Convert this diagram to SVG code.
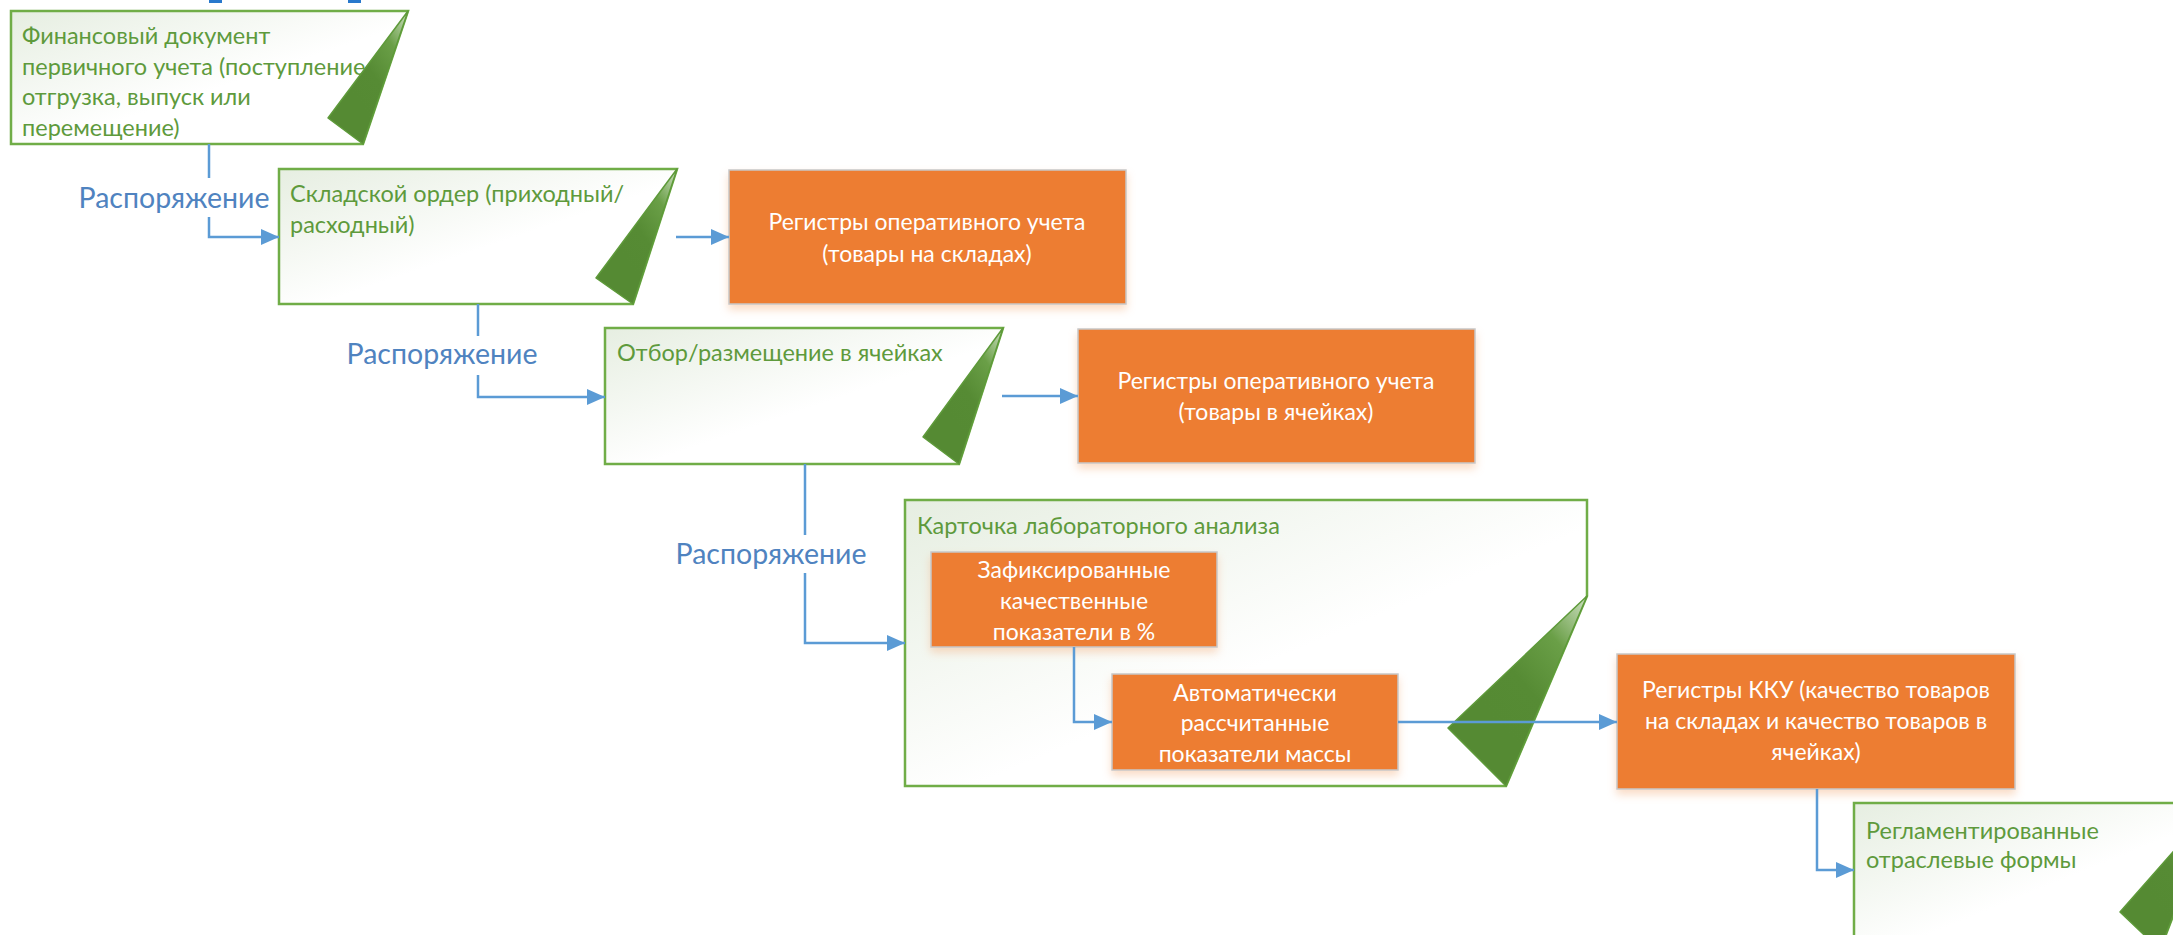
<svg xmlns="http://www.w3.org/2000/svg" width="2173" height="935" viewBox="0 0 2173 935">
<style>
.doc{stroke:#70AD47;stroke-width:2.5;fill:url(#docFill);stroke-linejoin:miter}
.fold{fill:url(#foldFill);stroke:#5E9A3A;stroke-width:1.5;stroke-linejoin:round}
.gt{font-family:Lato,"Open Sans",sans-serif;font-size:23.5px;fill:#5E9A3C}
.org{fill:#ED7D31;stroke:#C8C8C8;stroke-width:1.5;filter:url(#sh)}
.wt{font-family:Lato,"Open Sans",sans-serif;font-size:23px;fill:#FFFFFF;text-anchor:middle}
.lbl{font-family:Lato,"Open Sans",sans-serif;font-size:28.5px;fill:#4F83C0;text-anchor:middle}
.con{fill:none;stroke:#5B9BD5;stroke-width:2.5}
.arr{marker-end:url(#ah)}
</style>
<defs>
<linearGradient id="docFill" x1="0" y1="0" x2="1" y2="1">
<stop offset="0" stop-color="#E6EEE1"/>
<stop offset="0.55" stop-color="#FFFFFF"/>
<stop offset="1" stop-color="#FFFFFF"/>
</linearGradient>
<linearGradient id="foldFill" x1="1" y1="0" x2="0.4" y2="0.7">
<stop offset="0" stop-color="#CFE1C4"/>
<stop offset="0.35" stop-color="#6A9F47"/>
<stop offset="0.7" stop-color="#568B34"/>
<stop offset="1" stop-color="#558A33"/>
</linearGradient>
<filter id="sh" x="-10%" y="-10%" width="120%" height="130%">
<feDropShadow dx="0" dy="5" stdDeviation="4" flood-color="#F4B183" flood-opacity="0.45"/>
</filter>
<marker id="ah" markerUnits="userSpaceOnUse" markerWidth="18" markerHeight="16" viewBox="0 0 18 16" refX="18" refY="8" orient="auto">
<path d="M0,0 L18,8 L0,16 z" fill="#5B9BD5"/>
</marker>
</defs>

<rect x="209" y="0" width="13" height="3" fill="#2878CC"/>
<rect x="348" y="0" width="13" height="3" fill="#2878CC"/>

<g id="doc1">
<path class="doc" d="M11,11 H408 L363,144 H11 Z"/>
<text class="gt" x="22" y="44">Финансовый документ</text>
<text class="gt" x="22" y="75">первичного учета (поступление</text>
<text class="gt" x="22" y="105">отгрузка, выпуск или</text>
<text class="gt" x="22" y="136">перемещение)</text>
<path class="fold" d="M408,11 L328,118 L363,144 Z"/>
</g>

<g id="doc2">
<path class="doc" d="M279,169 H677 L633,304 H279 Z"/>
<text class="gt" x="290" y="202">Складской ордер (приходный/</text>
<text class="gt" x="290" y="233">расходный)</text>
<path class="fold" d="M677,169 L596,278 L633,304 Z"/>
</g>

<g id="reg1">
<rect class="org" x="729" y="170" width="397" height="134"/>
<text class="wt" x="927" y="230">Регистры оперативного учета</text>
<text class="wt" x="927" y="262">(товары на складах)</text>
</g>

<g id="doc3">
<path class="doc" d="M605,328 H1003 L959,464 H605 Z"/>
<text class="gt" x="617" y="361">Отбор/размещение в ячейках</text>
<path class="fold" d="M1003,328 L923,437 L959,464 Z"/>
</g>

<g id="reg2">
<rect class="org" x="1078" y="329" width="397" height="134"/>
<text class="wt" x="1276" y="389">Регистры оперативного учета</text>
<text class="wt" x="1276" y="420">(товары в ячейках)</text>
</g>

<g id="doc4">
<path class="doc" d="M905,500 H1587 V596 L1506,786 H905 Z"/>
<text class="gt" x="917" y="534">Карточка лабораторного анализа</text>
<path class="fold" d="M1587,596 L1448,728 L1506,786 Z"/>
</g>

<g id="inner1">
<rect class="org" x="931" y="552" width="286" height="95"/>
<text class="wt" x="1074" y="578">Зафиксированные</text>
<text class="wt" x="1074" y="609">качественные</text>
<text class="wt" x="1074" y="640">показатели в %</text>
</g>

<g id="inner2">
<rect class="org" x="1112" y="674" width="286" height="96"/>
<text class="wt" x="1255" y="701">Автоматически</text>
<text class="wt" x="1255" y="731">рассчитанные</text>
<text class="wt" x="1255" y="762">показатели массы</text>
</g>

<g id="kku">
<rect class="org" x="1617" y="654" width="398" height="135"/>
<text class="wt" x="1816" y="698">Регистры ККУ (качество товаров</text>
<text class="wt" x="1816" y="729">на складах и качество товаров в</text>
<text class="wt" x="1816" y="760">ячейках)</text>
</g>

<g id="doc5">
<path class="doc" d="M1854,803 H2216 L2160,950 H1854 Z"/>
<text class="gt" x="1866" y="839">Регламентированные</text>
<text class="gt" x="1866" y="868">отраслевые формы</text>
<path class="fold" d="M2216,803 L2120,912 L2160,950 Z"/>
</g>

<g id="connectors">
<path class="con" d="M209,144 V178"/>
<path class="con arr" d="M209,217 V237 H279"/>
<text class="lbl" x="174" y="208">Распоряжение</text>
<path class="con arr" d="M676,237 H729"/>
<path class="con" d="M478,304 V336"/>
<path class="con arr" d="M478,375 V397 H605"/>
<text class="lbl" x="442" y="364">Распоряжение</text>
<path class="con arr" d="M1002,396 H1078"/>
<path class="con" d="M805,464 V535"/>
<path class="con arr" d="M805,573 V643 H905"/>
<text class="lbl" x="771" y="564">Распоряжение</text>
<path class="con arr" d="M1074,647 V722 H1112"/>
<path class="con arr" d="M1398,722 H1617"/>
<path class="con arr" d="M1817,789 V870 H1854"/>
</g>
</svg>
